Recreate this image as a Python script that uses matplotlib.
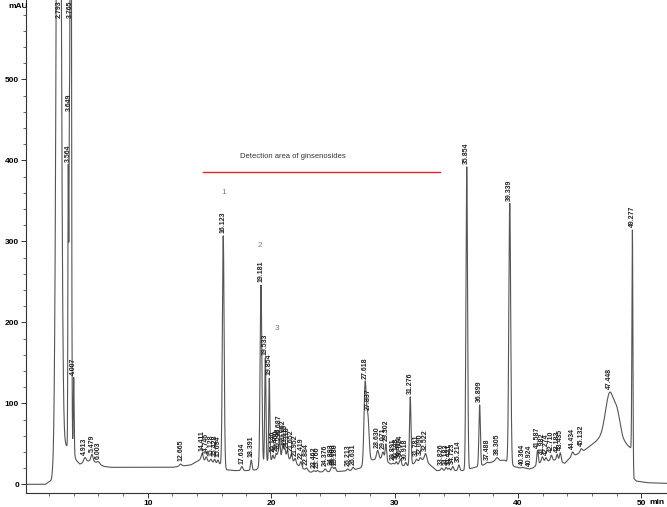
import numpy as np
import matplotlib
matplotlib.use('Agg')
import matplotlib.pyplot as plt

plt.rcParams['font.family'] = ['Liberation Sans', 'DejaVu Sans']

# peaks: retention time (min), apex height (mAU), width (sigma, min)
peak_times = [2.793, 3.564, 3.649, 3.765, 4.007, 4.913, 5.479, 6.003,
              12.665, 14.411, 14.746, 15.128, 15.428, 15.694, 16.123, 17.634, 18.391,
              19.181, 19.533, 19.854, 20.140, 20.400, 20.548, 20.687, 20.952, 21.115,
              21.318, 21.652, 21.952, 22.419, 22.884, 23.462, 23.760, 24.376, 24.883,
              25.003, 25.180, 26.213, 26.631, 27.618, 27.837, 28.630, 29.071, 29.302,
              29.891, 30.148, 30.414, 30.514, 30.918, 31.276, 31.781, 32.090, 32.522,
              33.826, 34.183, 34.421, 34.723, 35.214, 35.854, 36.899, 37.488, 38.305,
              39.339, 40.364, 40.924, 41.587, 41.982, 42.274, 42.710, 43.183, 43.435,
              44.434, 45.132, 47.448, 49.277]
peak_heights = [1400, 395, 457, 1200, 132, 33, 37, 28,
                25, 38, 34, 31, 31, 30, 307, 22, 30,
                246, 156, 131, 36, 38, 40, 56, 50, 45,
                42, 38, 32, 28, 20, 17, 17, 19, 21,
                21, 21, 19, 21, 127, 88, 42, 40, 50,
                26, 28, 29, 31, 27, 108, 31, 33, 38,
                20, 21, 20, 22, 24, 392, 98, 27, 33,
                347, 21, 19, 42, 34, 33, 36, 37, 39,
                40, 44, 114, 314]
peak_widths = [0.16, 0.03, 0.03, 0.05, 0.035, 0.1, 0.08, 0.1,
               0.1, 0.08, 0.07, 0.07, 0.06, 0.06, 0.07, 0.08, 0.06,
               0.07, 0.05, 0.045, 0.05, 0.05, 0.05, 0.05, 0.06, 0.05,
               0.06, 0.06, 0.07, 0.07, 0.08, 0.08, 0.08, 0.09, 0.07,
               0.06, 0.07, 0.08, 0.08, 0.09, 0.1, 0.09, 0.08, 0.06,
               0.07, 0.06, 0.06, 0.05, 0.07, 0.06, 0.08, 0.08, 0.1,
               0.08, 0.07, 0.07, 0.07, 0.07, 0.065, 0.06, 0.1, 0.12,
               0.075, 0.1, 0.1, 0.06, 0.07, 0.07, 0.07, 0.07, 0.07,
               0.08, 0.09, 0.35, 0.04]

# unlabeled shoulder on the broad 47.448 peak
shoulder_times = [48.05]
shoulder_heights = [94]
shoulder_widths = [0.22]

# baseline level between peaks
base_t = [0, 1.7, 2.2, 2.6, 3.0, 3.3, 3.9, 4.2, 4.5, 5.0, 5.5, 6.0, 6.5, 7.0, 8, 10, 12,
          13.5, 14.2, 15.0, 15.9, 16.4, 17.0, 18.0, 18.8, 19.5, 20.0, 21.0, 21.8, 22.5,
          23.2, 25.5, 26.5, 27.2, 28.1, 29.0, 29.7, 30.5, 31.0, 31.6, 32.3, 32.9, 33.4,
          35.5, 36.3, 37.2, 38.0, 38.9, 39.7, 40.2, 41.2, 41.9, 43.0, 43.8, 44.3, 45.2,
          45.9, 46.5, 47.45, 48.3, 48.9, 49.2, 49.32, 49.6, 50.5, 52.5]
base_v = [0, 0, 5, 30, 45, 48, 45, 30, 25, 28, 30, 25, 22, 21, 21, 21, 21,
          24, 30, 28, 25, 18, 17, 17, 18, 28, 30, 36, 28, 20,
          15, 16, 17, 20, 30, 32, 25, 24, 22, 26, 30, 24, 17,
          17, 20, 24, 28, 30, 22, 20, 20, 28, 30, 26, 34, 40,
          48, 55, 62, 60, 48, 44, 8, 4, 2, 1]

# annotations
detect_text = 'Detection area of ginsenosides'
detect_text_t, detect_text_v = 21.75, 405
detect_start, detect_end, detect_level = 14.5, 33.7, 386
peak_numbers = ['1', '2', '3']
number_t = [16.2, 19.1, 20.5]
number_v = [360, 295, 193]
number_colors = ['#808080', '#808080', '#6b6ba8']

x_min, x_max = 0.14, 52.08
y_min, y_max = -10.7, 598

T = np.array(peak_times + shoulder_times)
H = np.array(peak_heights + shoulder_heights, dtype=float)
S = np.array(peak_widths + shoulder_widths)

# amplitudes so that the trace hits the read apex heights
A = np.exp(-(T[:, None] - T[None, :]) ** 2 / (2 * S[None, :] ** 2))
amp = np.linalg.solve(A, H - np.interp(T, base_t, base_v))

t = np.linspace(0, 52.5, 9000)
trace = np.interp(t, base_t, base_v) + \
    (amp[None, :] * np.exp(-(t[:, None] - T[None, :]) ** 2 / (2 * S[None, :] ** 2))).sum(axis=1)

fig = plt.figure(figsize=(6.67, 5.07), dpi=100)
ax = fig.add_axes([26 / 667, 14 / 507, 1 - 26 / 667, 1 - 14 / 507])
ax.plot(t, trace, color='#555555', lw=0.8)

ax.set_xlim(x_min, x_max)
ax.set_ylim(y_min, y_max)
for s in ['top', 'right']:
    ax.spines[s].set_visible(False)
for s in ['left', 'bottom']:
    ax.spines[s].set_color('#333333')
    ax.spines[s].set_linewidth(0.8)

ax.set_xticks(range(10, 51, 10))
ax.set_xticks(np.arange(2, 52, 2), minor=True)
ax.set_yticks(range(0, 501, 100))
ax.set_yticks(np.arange(0, 600, 20), minor=True)
ax.tick_params(which='major', direction='out', length=3.5, width=0.7, labelsize=6, pad=1.5,
               color='#333333')
ax.tick_params(which='minor', direction='out', length=2.5, width=0.6, color='#555555')
for lbl in ax.get_xticklabels() + ax.get_yticklabels():
    lbl.set_fontweight('bold')

fig.text(8 / 667, 1 - 7 / 507, 'mAU', fontsize=6, fontweight='bold', va='center')
fig.text(657 / 667, 5 / 507, 'min', fontsize=6, fontweight='bold', ha='center', va='center')

# retention time labels
lab_font = ['Liberation Sans Narrow', 'Liberation Sans', 'DejaVu Sans']
for rt, h in zip(peak_times, peak_heights):
    if h > y_max - 30:
        ax.text(rt, y_max - 1, f'{rt:.3f}', rotation=90, ha='center', va='top',
                fontsize=5, fontweight='bold', color='#222222', family=lab_font)
    else:
        ax.annotate(f'{rt:.3f}', (rt, h), xytext=(0, 2), textcoords='offset points',
                    rotation=90, ha='center', va='bottom', fontsize=5,
                    fontweight='bold', color='#222222', family=lab_font)

ax.plot([detect_start, detect_end], [detect_level, detect_level], color='#e02424', lw=1)
ax.text(detect_text_t, detect_text_v, detect_text,
        fontsize=5.5, color='#333333', ha='center', va='center')
for n, nt, nv, c in zip(peak_numbers, number_t, number_v, number_colors):
    ax.text(nt, nv, n, fontsize=6, color=c, ha='center', va='center')

plt.savefig('out.png', dpi=100)
